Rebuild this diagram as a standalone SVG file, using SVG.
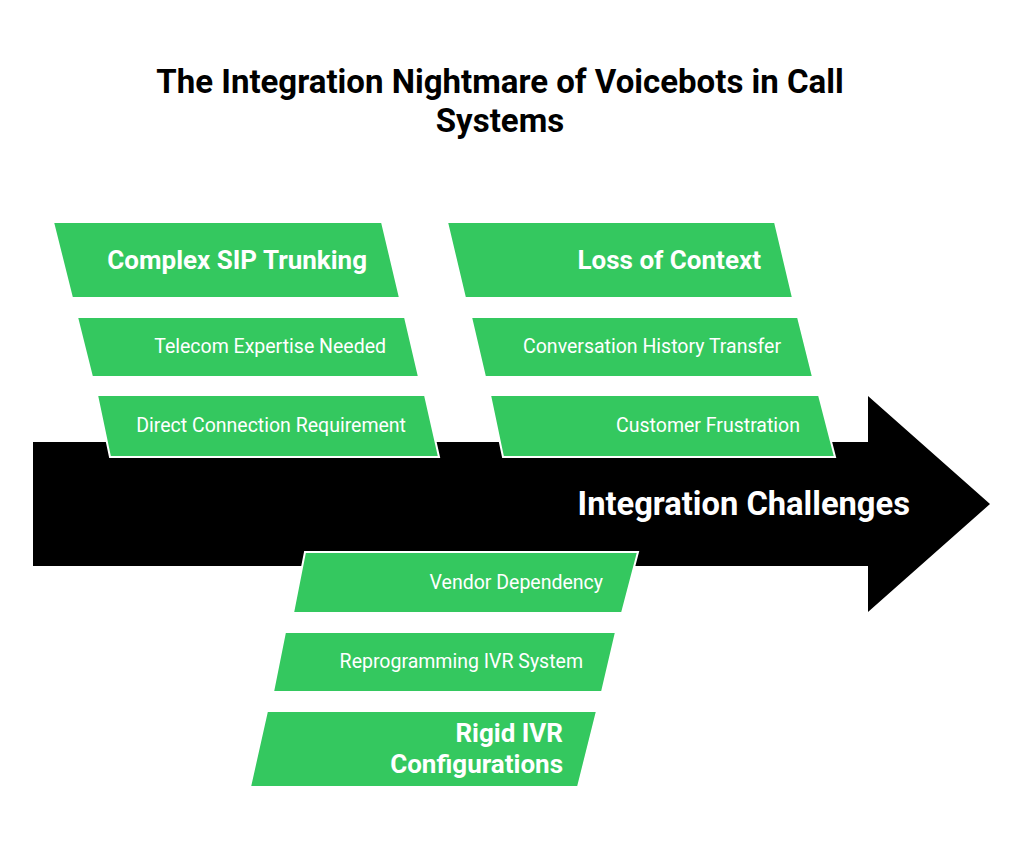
<svg xmlns="http://www.w3.org/2000/svg" width="1024" height="852" viewBox="0 0 1024 852">
<style>
.box{fill:#34c85f;stroke:#ffffff;stroke-width:2}
.h{font-family:Roboto,"Liberation Sans",sans-serif;font-weight:700;font-size:26px;fill:#fff;text-anchor:end}
.s{font-family:Roboto,"Liberation Sans",sans-serif;font-weight:400;font-size:19.5px;fill:#fff;text-anchor:end}
.title{font-family:Roboto,"Liberation Sans",sans-serif;font-weight:700;font-size:33px;fill:#000;text-anchor:middle}
</style>
<rect width="1024" height="852" fill="#fff"/>
<text class="title" x="500" y="93">The Integration Nightmare of Voicebots in Call</text>
<text class="title" x="500" y="132">Systems</text>
<g id="spine">
<polygon points="33,442 868,442 868,396 990,504 868,612 868,566 33,566" fill="#000"/>
<text x="910" y="515" font-family="Roboto,'Liberation Sans',sans-serif" font-weight="700" font-size="32.7" fill="#fff" text-anchor="end">Integration Challenges</text>
</g>
<g id="complex-sip">
<polygon class="box" points="53,222 382,222 400,298 72,298"/>
<text class="h" x="367" y="269">Complex SIP Trunking</text>
</g>
<g id="telecom">
<polygon class="box" points="77,317 405,317 419,377 92,377"/>
<text class="s" x="386" y="353">Telecom Expertise Needed</text>
</g>
<g id="direct">
<polygon class="box" points="97,395 425,395 439,457 110,457"/>
<text class="s" x="406" y="432">Direct Connection Requirement</text>
</g>
<g id="loss-context">
<polygon class="box" points="447,222 775,222 793,298 465,298"/>
<text class="h" x="761" y="269">Loss of Context</text>
</g>
<g id="history">
<polygon class="box" points="471,317 798,317 813,377 485,377"/>
<text class="s" x="781" y="353">Conversation History Transfer</text>
</g>
<g id="frustration">
<polygon class="box" points="490,395 819,395 835,457 503,457"/>
<text class="s" x="800" y="432">Customer Frustration</text>
</g>
<g id="vendor">
<polygon class="box" points="305,552 638,552 622,613 293,613"/>
<text class="s" x="603" y="589">Vendor Dependency</text>
</g>
<g id="reprogramming">
<polygon class="box" points="285,632 616,632 602,692 273,692"/>
<text class="s" x="583" y="668">Reprogramming IVR System</text>
</g>
<g id="rigid-ivr">
<polygon class="box" points="267,711 597,711 578,787 250,787"/>
<text class="h" x="563" y="742">Rigid IVR</text>
<text class="h" x="563" y="773">Configurations</text>
</g>
</svg>
